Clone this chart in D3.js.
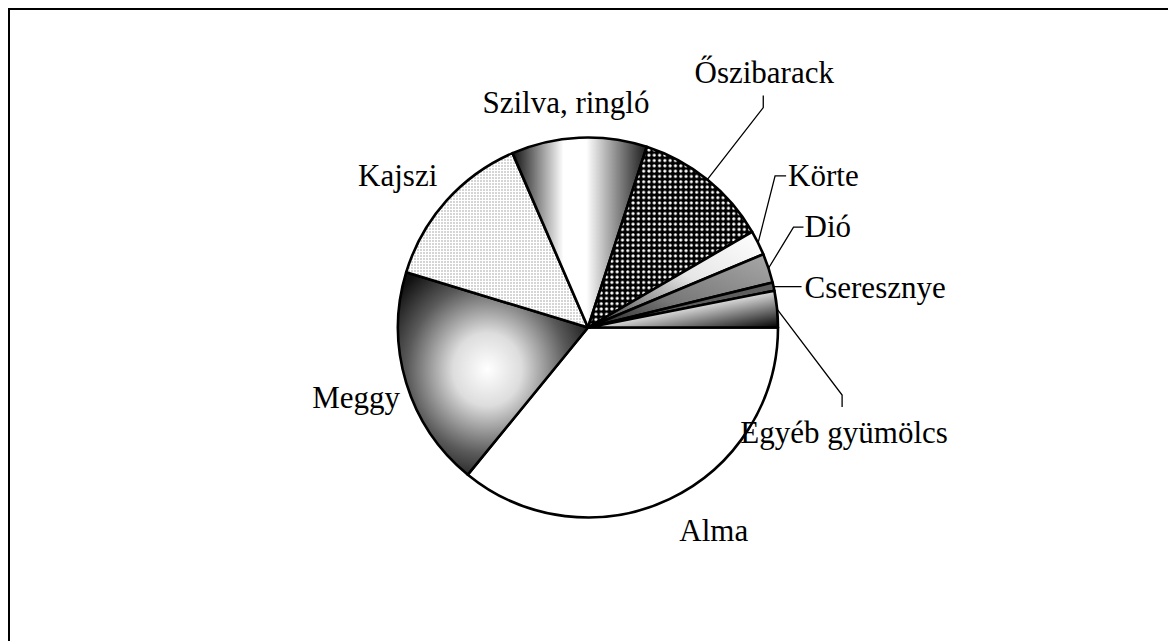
<!DOCTYPE html>
<html>
<head>
<meta charset="utf-8">
<script src="https://cdn.jsdelivr.net/npm/d3@7"></script>
<style>
  body { margin: 0; background: #fff; }
  text { font-family: "Liberation Serif", "Times New Roman", serif; font-size: 31px; fill: #000; }
</style>
</head>
<body>
<script>
var width = 1168, height = 641;

// data (share in %)
var categories = ["Alma", "Meggy", "Kajszi", "Szilva, ringló", "Őszibarack", "Körte", "Dió", "Cseresznye", "Egyéb gyümölcs"];
var values = [35.9, 18.8, 13.8, 11.5, 11.6, 2.1, 2.5, 0.7, 3.1];

// fill id for each slice
var fills = ["white", "url(#gMeggy)", "url(#pKajszi)", "url(#gSzilva)", "url(#pOszi)", "url(#gKorte)", "url(#gDio)", "url(#pCser)", "url(#gEgyeb)"];

// label layout: offsets from the label point (straight labels) or leader shape
// lead: [elbow dx,dy], [tail dx,dy]; txt: [dx,dy] from end of leader, anchor
var labelLayout = [
  {dx: 25, dy: 1, anchor: "middle"},
  {dx: -7, dy: 12, anchor: "middle"},
  {dx: -15, dy: 15, anchor: "middle"},
  {dx: -11, dy: 20, anchor: "middle"},
  {lead: [[56, -72], [0, -12]], txt: [1, -13], anchor: "middle"},
  {lead: [[17, -67], [11, 0]], txt: [2, 10], anchor: "start"},
  {lead: [[25, -41], [10, 0]], txt: [1, 10], anchor: "start"},
  {lead: [[1, 0], [27, 0]], txt: [3, 11], anchor: "start"},
  {lead: [[65, 86], [0, 12]], txt: [2, 36], anchor: "middle"}
];

var cx = 588, cy = 327.5, radius = 190;

var svg = d3.select("body").append("svg")
  .attr("width", width)
  .attr("height", height);

// border of the chart area
svg.append("rect")
  .attr("x", 9).attr("y", 9)
  .attr("width", 1200).attr("height", 700)
  .style("fill", "none")
  .style("stroke", "#000")
  .style("stroke-width", 2);

var defs = svg.append("defs");

// Meggy: radial gradient
var gm = defs.append("radialGradient").attr("id", "gMeggy")
  .attr("cx", 0.47).attr("cy", 0.48).attr("r", 0.6);
gm.append("stop").attr("offset", "0").attr("stop-color", "#fff");
gm.append("stop").attr("offset", "0.3").attr("stop-color", "#ddd");
gm.append("stop").attr("offset", "0.7").attr("stop-color", "#5a5a5a");
gm.append("stop").attr("offset", "1").attr("stop-color", "#111");

// Kajszi: fine stipple
var pk = defs.append("pattern").attr("id", "pKajszi")
  .attr("patternUnits", "userSpaceOnUse").attr("width", 3).attr("height", 3);
pk.append("rect").attr("width", 3).attr("height", 3).attr("fill", "#fff");
pk.append("rect").attr("width", 2).attr("height", 1).attr("fill", "#aaa");

// Szilva: horizontal dark-white-dark
var gs = defs.append("linearGradient").attr("id", "gSzilva")
  .attr("x1", 0).attr("x2", 1).attr("y1", 0).attr("y2", 0);
gs.append("stop").attr("offset", "0").attr("stop-color", "#111");
gs.append("stop").attr("offset", "0.38").attr("stop-color", "#fff");
gs.append("stop").attr("offset", "0.55").attr("stop-color", "#fff");
gs.append("stop").attr("offset", "1").attr("stop-color", "#1a1a1a");

// Őszibarack: white dots on black
var po = defs.append("pattern").attr("id", "pOszi")
  .attr("patternUnits", "userSpaceOnUse").attr("width", 5.3).attr("height", 5.3);
po.append("rect").attr("width", 5.3).attr("height", 5.3).attr("fill", "#000");
po.append("circle").attr("cx", 2.65).attr("cy", 2.65).attr("r", 1.6).attr("fill", "#fff");

// Körte: light gradient
var gk = defs.append("linearGradient").attr("id", "gKorte")
  .attr("x1", 1).attr("x2", 0).attr("y1", 0).attr("y2", 1);
gk.append("stop").attr("offset", "0").attr("stop-color", "#fff");
gk.append("stop").attr("offset", "0.45").attr("stop-color", "#e6e6e6");
gk.append("stop").attr("offset", "1").attr("stop-color", "#333");

// Dió: dark to grey
var gd = defs.append("linearGradient").attr("id", "gDio")
  .attr("x1", 0).attr("x2", 1).attr("y1", 1).attr("y2", 0);
gd.append("stop").attr("offset", "0").attr("stop-color", "#222");
gd.append("stop").attr("offset", "0.4").attr("stop-color", "#777");
gd.append("stop").attr("offset", "1").attr("stop-color", "#a8a8a8");

// Cseresznye: fine checker
var pc = defs.append("pattern").attr("id", "pCser")
  .attr("patternUnits", "userSpaceOnUse").attr("width", 2).attr("height", 2);
pc.append("rect").attr("width", 2).attr("height", 2).attr("fill", "#bbb");
pc.append("rect").attr("width", 1).attr("height", 1).attr("fill", "#000");
pc.append("rect").attr("x", 1).attr("y", 1).attr("width", 1).attr("height", 1).attr("fill", "#000");

// Egyéb: white to dark
var ge = defs.append("linearGradient").attr("id", "gEgyeb")
  .attr("x1", 0).attr("x2", 1).attr("y1", 0).attr("y2", 1);
ge.append("stop").attr("offset", "0").attr("stop-color", "#fff");
ge.append("stop").attr("offset", "0.45").attr("stop-color", "#eee");
ge.append("stop").attr("offset", "1").attr("stop-color", "#000");

var data = categories.map(function(c, i) { return {name: c, value: values[i], i: i}; });

var pie = d3.pie()
  .sort(null)
  .value(function(d) { return d.value; })
  .startAngle(Math.PI / 2)
  .endAngle(Math.PI / 2 + 2 * Math.PI);

var arc = d3.arc().innerRadius(0).outerRadius(radius);
var edgeArc = d3.arc().innerRadius(radius).outerRadius(radius);
var labelArc = d3.arc().innerRadius(235).outerRadius(235);

var g = svg.append("g")
  .attr("transform", "translate(" + cx + "," + cy + ")");

var arcs = pie(data);

g.selectAll("path.slice").data(arcs).enter()
  .append("path")
  .attr("class", "slice")
  .attr("d", arc)
  .style("fill", function(d) { return fills[d.data.i]; })
  .style("stroke", "#000")
  .style("stroke-width", 2.6)
  .style("stroke-linejoin", "round");

// labels
arcs.forEach(function(d) {
  var L = labelLayout[d.data.i];
  var tx, ty;
  if (L.lead) {
    var p0 = edgeArc.centroid(d);
    var p1 = [p0[0] + L.lead[0][0], p0[1] + L.lead[0][1]];
    var p2 = [p1[0] + L.lead[1][0], p1[1] + L.lead[1][1]];
    g.append("path")
      .attr("d", d3.line()([p0, p1, p2]))
      .style("fill", "none")
      .style("stroke", "#000")
      .style("stroke-width", 1.3);
    tx = p2[0] + L.txt[0];
    ty = p2[1] + L.txt[1];
  } else {
    var c = labelArc.centroid(d);
    tx = c[0] + L.dx;
    ty = c[1] + L.dy;
  }
  g.append("text")
    .attr("x", tx)
    .attr("y", ty)
    .attr("text-anchor", L.anchor)
    .text(d.data.name);
});
</script>
</body>
</html>
